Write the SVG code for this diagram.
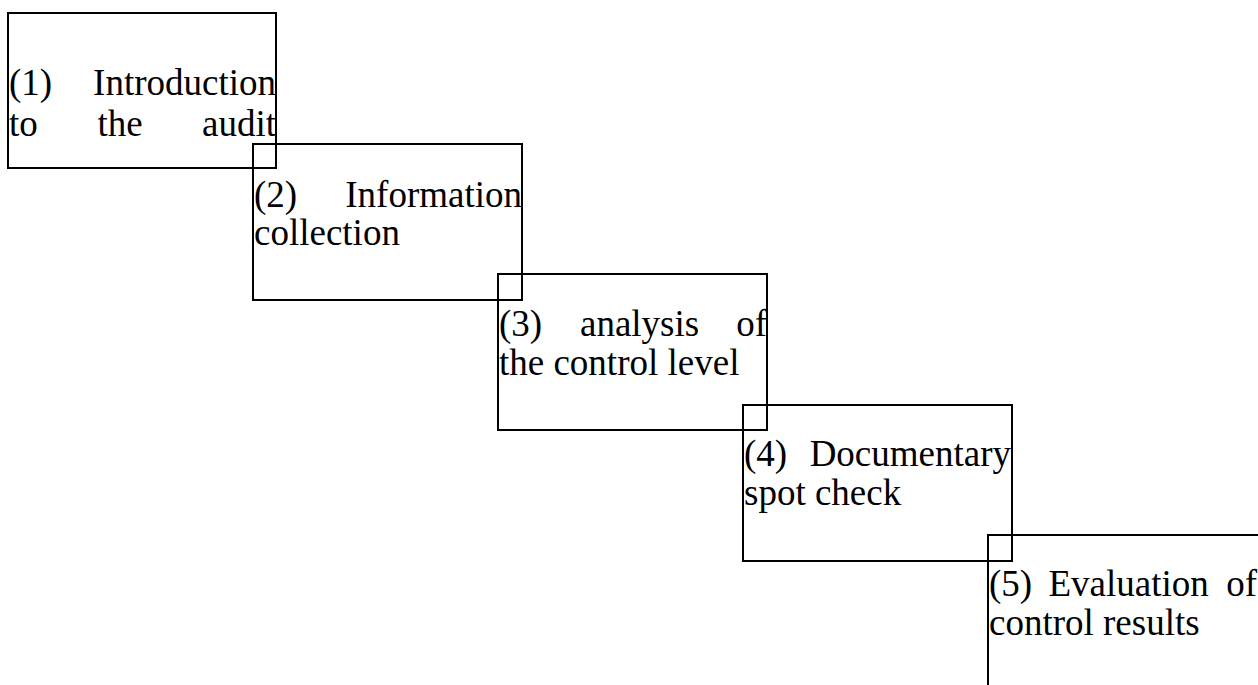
<svg xmlns="http://www.w3.org/2000/svg" width="1258" height="685" viewBox="0 0 1258 685">
<style>
.box{fill:none;stroke:#000;stroke-width:2}
.t{font-family:"Liberation Serif","Times New Roman",serif;font-size:37px;fill:#000}
.e{text-anchor:end}
</style>
<rect width="1258" height="685" fill="#fff"/>
<g id="connectors"></g>
<g id="node1">
<rect class="box" x="8" y="13" width="268" height="155"/>
<text class="t" y="95"><tspan x="9">(1)</tspan><tspan class="e" x="276">Introduction</tspan></text>
<text class="t" y="136"><tspan x="9">to</tspan><tspan x="97.5">the</tspan><tspan class="e" x="276">audit</tspan></text>
</g>
<g id="node2">
<rect class="box" x="253" y="144" width="269" height="156"/>
<text class="t" y="207"><tspan x="254">(2)</tspan><tspan class="e" x="522">Information</tspan></text>
<text class="t" y="245" x="254">collection</text>
</g>
<g id="node3">
<rect class="box" x="498" y="274" width="269" height="156"/>
<text class="t" y="336"><tspan x="499">(3)</tspan><tspan x="580">analysis</tspan><tspan class="e" x="767">of</tspan></text>
<text class="t" y="375" x="499">the control level</text>
</g>
<g id="node4">
<rect class="box" x="743" y="405" width="269" height="156"/>
<text class="t" y="466"><tspan x="744">(4)</tspan><tspan class="e" x="1011">Documentary</tspan></text>
<text class="t" y="505" x="744">spot check</text>
</g>
<g id="node5">
<rect class="box" x="988" y="535" width="272" height="200"/>
<text class="t" y="596"><tspan x="989">(5)</tspan><tspan x="1048.5">Evaluation</tspan><tspan class="e" x="1257">of</tspan></text>
<text class="t" y="635" x="989">control results</text>
</g>
</svg>
